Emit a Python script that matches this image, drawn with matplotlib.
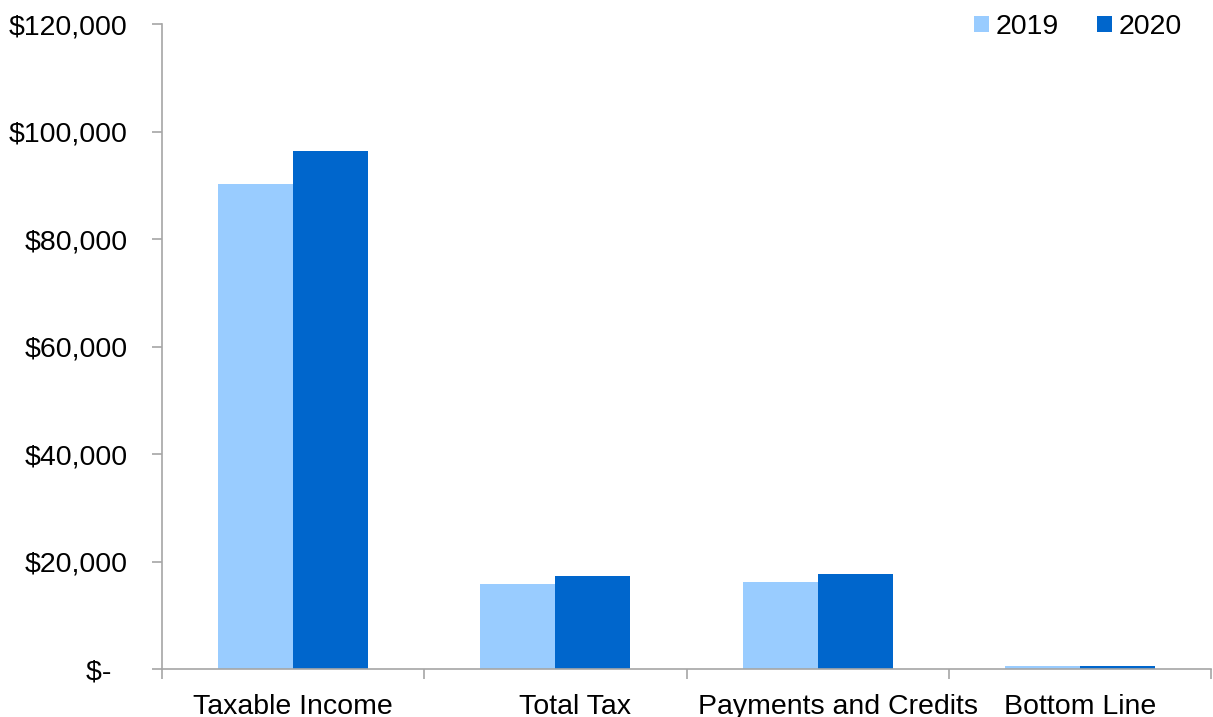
import numpy as np
import matplotlib.pyplot as plt
import matplotlib.transforms as mtransforms
from matplotlib.ticker import FuncFormatter, FixedLocator

plt.rcParams['font.family'] = ['Liberation Sans', 'DejaVu Sans']

categories = ['Taxable Income', 'Total Tax', 'Payments and Credits', 'Bottom Line']
values_2019 = [90200, 15800, 16250, 550]
values_2020 = [96400, 17300, 17600, 480]
years = ['2019', '2020']
colors = ['#99CCFF', '#0066CC']

fs = 20.5

fig = plt.figure(figsize=(12.13, 7.17), dpi=100)
ax = fig.add_axes([162 / 1213, 48 / 717, 1049 / 1213, 645 / 717])

x = np.arange(len(categories))
w = 0.286
ax.bar(x - w / 2, values_2019, w, color=colors[0], label=years[0])
ax.bar(x + w / 2, values_2020, w, color=colors[1], label=years[1])

ax.set_xlim(-0.5, len(categories) - 0.5)
ax.set_ylim(0, 120000)
ax.set_yticks(np.arange(0, 120001, 20000))


def money(v, pos):
    if v == 0:
        return '$-  '
    return '${:,.0f}'.format(v)


ax.yaxis.set_major_formatter(FuncFormatter(money))
ax.set_xticks(x)
ax.set_xticklabels(categories)
ax.xaxis.set_minor_locator(FixedLocator(np.arange(-0.5, len(categories), 1)))

spine_color = '#A6A6A6'
for s in ['top', 'right']:
    ax.spines[s].set_visible(False)
for s in ['left', 'bottom']:
    ax.spines[s].set_color(spine_color)
    ax.spines[s].set_linewidth(1.2)

ax.tick_params(axis='y', direction='out', length=7, width=1.2, color=spine_color,
               labelsize=fs, pad=18)
ax.tick_params(axis='x', which='major', length=0, labelsize=fs, pad=18)
ax.tick_params(axis='x', which='minor', direction='out', length=7, width=1.2,
               color=spine_color)

# the middle two labels sit a bit right of their category centre in the original
shift = mtransforms.ScaledTranslation(0.2, 0, fig.dpi_scale_trans)
for i, lab in enumerate(ax.get_xticklabels()):
    if i in (1, 2):
        lab.set_transform(lab.get_transform() + shift)

fig.legend(*ax.get_legend_handles_labels(), loc='center right',
           bbox_to_anchor=(1182 / 1213, 1 - 27 / 717), frameon=False, fontsize=fs,
           handlelength=0.5, handleheight=0.5, handletextpad=0.25, columnspacing=1.35,
           ncol=2, borderaxespad=0, borderpad=0)

fig.savefig('out.png', dpi=100)
